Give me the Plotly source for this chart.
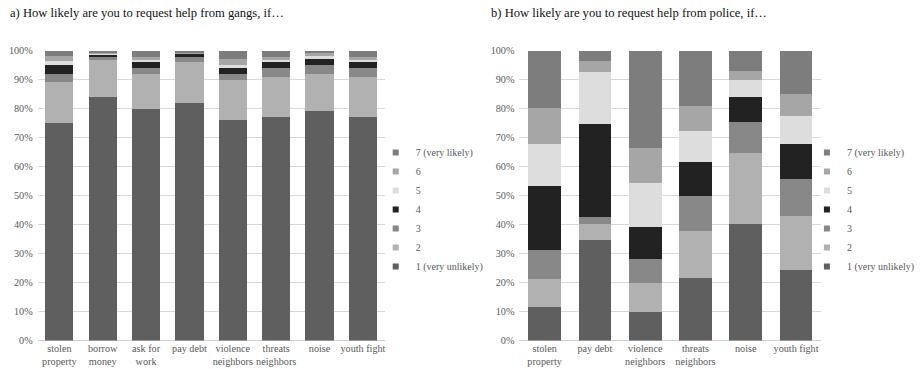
import plotly.graph_objects as go

W, H = 920, 369

gang_categories = ["stolen<br>property", "borrow<br>money", "ask for<br>work", "pay debt",
                   "violence<br>neighbors", "threats<br>neighbors", "noise", "youth fight"]
police_categories = ["stolen<br>property", "pay debt", "violence<br>neighbors",
                     "threats<br>neighbors", "noise", "youth fight"]

levels = ["1 (very unlikely)", "2", "3", "4", "5", "6", "7 (very likely)"]
colors = ["#5f5f5f", "#b1b1b1", "#888888", "#222222", "#dddddd", "#a6a6a6", "#7d7d7d"]

# gangs: percentages per level (1..7), one value per category
gang_1 = [75, 84, 80, 82, 76, 77, 79, 77]
gang_2 = [14, 13, 12, 14, 14, 14, 13, 14]
gang_3 = [3, 0.6, 2, 1.8, 2, 3, 3, 3]
gang_4 = [3, 1.2, 2, 1.2, 2, 2, 2, 2]
gang_5 = [1.5, 0.2, 0.8, 0.2, 1, 0.7, 1.2, 0.7]
gang_6 = [1.5, 0.3, 0.9, 0.3, 2, 1.2, 0.9, 1.2]
gang_7 = [2, 0.7, 2.3, 0.5, 3, 2.1, 0.9, 2.1]

police_1 = [11.5, 34.8, 9.7, 21.5, 40.3, 24.3]
police_2 = [9.8, 5.5, 10.1, 16.4, 24.4, 18.7]
police_3 = [9.9, 2.4, 8.2, 11.9, 10.6, 12.8]
police_4 = [22.0, 32.1, 11.0, 11.9, 8.7, 11.9]
police_5 = [14.4, 17.7, 15.2, 10.5, 5.7, 9.7]
police_6 = [12.6, 3.8, 12.1, 8.7, 3.1, 7.6]
police_7 = [19.8, 3.7, 33.7, 19.1, 7.2, 15.0]

gang_series = [gang_1, gang_2, gang_3, gang_4, gang_5, gang_6, gang_7]
police_series = [police_1, police_2, police_3, police_4, police_5, police_6, police_7]

y_ticks = list(range(0, 101, 10))
y_tick_labels = [f"{v}%" for v in y_ticks]

FONT = "'Liberation Serif', 'Times New Roman', Times, serif"
TICK_COLOR = "#595959"

fig = go.Figure()
for i, lvl in enumerate(levels):
    fig.add_trace(go.Bar(x=gang_categories, y=gang_series[i], name=lvl, showlegend=False,
                         marker=dict(color=colors[i], line=dict(width=0)),
                         xaxis="x", yaxis="y"))
for i, lvl in enumerate(levels):
    fig.add_trace(go.Bar(x=police_categories, y=police_series[i], name=lvl, showlegend=False,
                         marker=dict(color=colors[i], line=dict(width=0)),
                         xaxis="x2", yaxis="y2"))
# legend entries (small square keys like the reference)
for leg, xa, ya in (("legend", "x", "y"), ("legend2", "x2", "y2")):
    for i, lvl in enumerate(levels):
        fig.add_trace(go.Scatter(x=[None], y=[None], mode="markers", name=lvl,
                                 marker=dict(symbol="square", size=6, color=colors[i]),
                                 xaxis=xa, yaxis=ya, legend=leg))

def px_x(p):
    return p / W

def px_y(p):
    return 1 - p / H

ydom = [px_y(340.5), px_y(50.5)]

axis_common = dict(showline=False, ticks="", tickangle=0, automargin=False,
                   tickfont=dict(family=FONT, size=10.2, color=TICK_COLOR))
yaxis_common = dict(range=[0, 100], tickvals=y_ticks, ticktext=y_tick_labels, showgrid=True,
                    gridcolor="#d9d9d9", gridwidth=1, zeroline=True, zerolinecolor="#d0d0d0",
                    zerolinewidth=1, ticks="", showline=False, automargin=False,
                    ticklabelstandoff=4,
                    tickfont=dict(family=FONT, size=10.2, color=TICK_COLOR))

legend_common = dict(traceorder="reversed", bgcolor="rgba(0,0,0,0)",
                     font=dict(family=FONT, size=10, color=TICK_COLOR),
                     xanchor="left", yanchor="top", tracegroupgap=0, itemsizing="trace")

fig.update_layout(
    width=W, height=H,
    margin=dict(l=0, r=0, t=0, b=0),
    paper_bgcolor="white", plot_bgcolor="white",
    barmode="stack", bargap=0.35,
    font=dict(family=FONT, color=TICK_COLOR),
    xaxis=dict(domain=[px_x(38), px_x(388)], anchor="y", **axis_common),
    yaxis=dict(domain=ydom, anchor="x", **yaxis_common),
    xaxis2=dict(domain=[px_x(524), px_x(828.4)], anchor="y2", **axis_common),
    yaxis2=dict(domain=ydom, anchor="x2", **yaxis_common),
    legend=dict(x=px_x(379), y=px_y(138), **legend_common),
    legend2=dict(x=px_x(814), y=px_y(138), **legend_common),
    annotations=[
        dict(text="a) How likely are you to request help from gangs, if…", x=px_x(8), y=px_y(13),
             xref="paper", yref="paper", xanchor="left", yanchor="middle", showarrow=False,
             font=dict(family=FONT, size=12.6, color="#111111")),
        dict(text="b) How likely are you to request help from police, if…", x=px_x(493), y=px_y(13),
             xref="paper", yref="paper", xanchor="left", yanchor="middle", showarrow=False,
             font=dict(family=FONT, size=12.6, color="#111111")),
    ],
)

fig.write_html("out.html")
